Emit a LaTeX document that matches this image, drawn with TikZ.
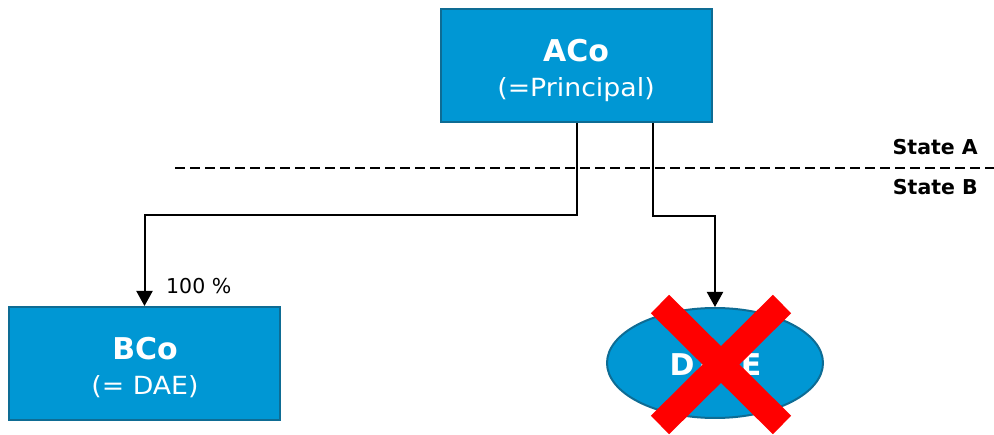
\documentclass[tikz,border=0pt]{standalone}
\usepackage{fontspec}
\setmainfont{DejaVu Sans}
\newfontfamily\widesans[FakeStretch=1.07]{DejaVu Sans}
\usetikzlibrary{arrows.meta,shapes.geometric}
\definecolor{entfill}{RGB}{0,151,212}
\definecolor{entline}{RGB}{14,108,148}
\definecolor{crossred}{RGB}{255,0,0}
\begin{document}
\begin{tikzpicture}[x=1pt,y=-1pt,
  entity/.style={draw=entline, line width=2pt, fill=entfill, rectangle,
    minimum width=271pt, minimum height=113pt, inner sep=0pt},
  hybrid/.style={draw=entline, line width=2pt, fill=entfill, ellipse,
    minimum width=216pt, minimum height=110pt, inner sep=0pt},
  title/.style={text=white, font=\fontsize{30}{30}\selectfont\bfseries, anchor=base, inner sep=0pt},
  subtitle/.style={text=white, font=\widesans\fontsize{25}{25}\selectfont, anchor=base, inner sep=0pt},
  conn/.style={line width=2pt, -{Triangle[length=15pt,width=16pt]}},
  statelbl/.style={font=\fontsize{20.5}{20.5}\selectfont\bfseries, anchor=base east, inner sep=0pt},
  pct/.style={font=\fontsize{20.5}{20.5}\selectfont, anchor=base west, inner sep=0pt}]
\useasboundingbox (0,0) rectangle (994,435);

% entities
\node[entity] (ACo) at (576.5,65.5) {};
\node[title] (AColbl) at (576,61.5) {ACo};
\node[subtitle] (ACosub) at (576,96.5) {(=Principal)};

\node[entity] (BCo) at (144.5,363.5) {};
\node[title] (BColbl) at (145,360) {BCo};
\node[subtitle] (BCosub) at (145,394.5) {(= DAE)};

\node[hybrid] (DAE) at (715,363) {};
\node[title] (DAElbl) at (715.5,376) {D\kern3pt A\kern20pt E};

% state border
\coordinate (borderL) at (175,168);
\coordinate (borderR) at (994,168);
\draw[line width=2pt, dash pattern=on 10pt off 5pt] (borderL) -- (borderR);
\node[statelbl] (stateA) at (978,155) {State A};
\node[statelbl] (stateB) at (978,195) {State B};

% ownership links
\draw[conn] (ACo.south) -- (ACo.south |- 0,215) -| (BCo.north);
\draw[conn] ([xshift=76.5pt]ACo.south) -- ++(0,93) -| (DAE.north);
\node[pct] (share) at (166,294) {100 \%};

% struck-out entity
\coordinate (xa) at (660,304);
\coordinate (xb) at (782,425);
\coordinate (xc) at (782,304);
\coordinate (xd) at (660,425);
\draw[crossred, line width=26pt] (xa) -- (xb);
\draw[crossred, line width=26pt] (xc) -- (xd);
\end{tikzpicture}
\end{document}
